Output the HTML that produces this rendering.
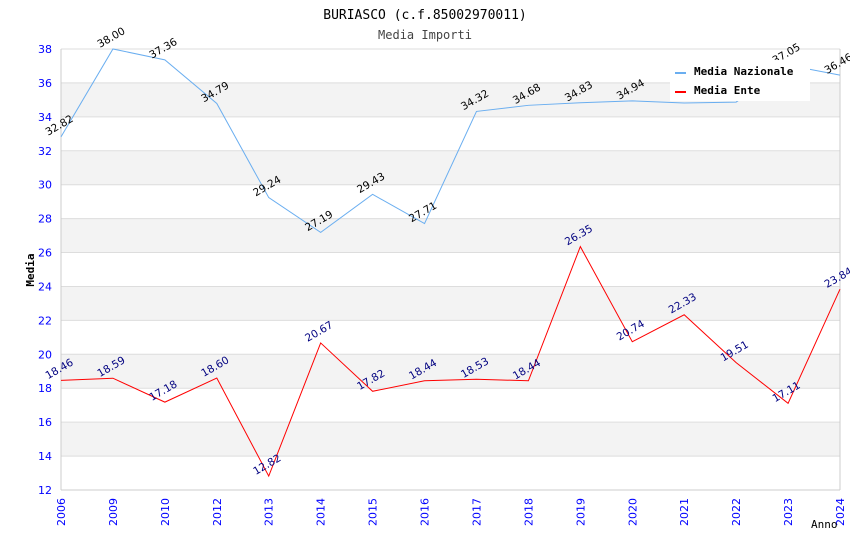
<!DOCTYPE html>
<html><head><meta charset="utf-8"><style>
body{margin:0;background:#fff}
svg text{font-family:"DejaVu Sans","Liberation Sans",sans-serif}
</style></head><body>
<svg id="chart" width="850" height="550" xmlns="http://www.w3.org/2000/svg">
<text x="425" y="19" text-anchor="middle" font-size="13" fill="#000" style="font-family:'DejaVu Sans Mono',monospace">BURIASCO (c.f.85002970011)</text>
<text x="425" y="39" text-anchor="middle" font-size="12" fill="#444" style="font-family:'DejaVu Sans Mono',monospace">Media Importi</text>
<g id="bands"></g><g id="grid"></g><g id="axes"></g><g id="series"></g><g id="labels"></g>
<text x="34" y="270" font-size="11" font-weight="bold" transform="rotate(-90 34 270)" text-anchor="middle" style="font-family:'DejaVu Sans Mono',monospace">Media</text>
<text x="811" y="528" font-size="11" style="font-family:'DejaVu Sans Mono',monospace">Anno</text>
<g>
<rect x="670" y="60" width="140" height="41" fill="#fff"/>
<line x1="675" y1="73" x2="686" y2="73" stroke="#6aaef0" stroke-width="2"/>
<text x="694" y="75" font-size="11" font-weight="bold" style="font-family:'DejaVu Sans Mono',monospace">Media Nazionale</text>
<line x1="675" y1="92" x2="686" y2="92" stroke="#ff0000" stroke-width="2"/>
<text x="694" y="94" font-size="11" font-weight="bold" style="font-family:'DejaVu Sans Mono',monospace">Media Ente</text>
</g>
</svg>
<script>
const categories=["2006","2009","2010","2012","2013","2014","2015","2016","2017","2018","2019","2020","2021","2022","2023","2024"];
const nazionale=[32.82,38.00,37.36,34.79,29.24,27.19,29.43,27.71,34.32,34.68,34.83,34.94,34.82,34.87,37.05,36.46];
const ente=[18.46,18.59,17.18,18.60,12.82,20.67,17.82,18.44,18.53,18.44,26.35,20.74,22.33,19.51,17.11,23.84];
const showLabelNaz=[1,1,1,1,1,1,1,1,1,1,1,1,0,0,1,1];
const yTicks=[12,14,16,18,20,22,24,26,28,30,32,34,36,38];
const X0=61,X1=840,Y0=490,Y1=49,YMIN=12,YMAX=38;
const NS="http://www.w3.org/2000/svg";
const xs=i=>X0+(X1-X0)*i/(categories.length-1);
const ys=v=>Y0-(v-YMIN)/(YMAX-YMIN)*(Y0-Y1);
function mk(tag,attrs,parent,txt){const e=document.createElementNS(NS,tag);for(const k in attrs)e.setAttribute(k,attrs[k]);if(txt!=null)e.textContent=txt;document.getElementById(parent).appendChild(e);return e;}
for(let k=0;k<yTicks.length-1;k++){
  if(yTicks[k]%4===2){const b=mk('rect',{x:X0,y:ys(yTicks[k+1]),width:X1-X0,height:ys(yTicks[k])-ys(yTicks[k+1]),fill:'#f3f3f3'},'bands');
  
  }
}
yTicks.forEach(t=>{
  const l=mk('line',{x1:X0,x2:X1,y1:ys(t),y2:ys(t),stroke:'#dddddd'},'grid');
  
  
  const tx=mk('text',{x:52,y:ys(t)+4,'text-anchor':'end','font-size':11,fill:'#0000ff'},'axes',t);
  
  
});
mk('line',{x1:X0,x2:X0,y1:Y1,y2:Y0,stroke:'#ccc'},'axes');
mk('line',{x1:X1,x2:X1,y1:Y1,y2:Y0,stroke:'#ccc'},'axes');
mk('line',{x1:X0,x2:X1,y1:Y0,y2:Y0,stroke:'#ccc'},'axes');
categories.forEach((c,i)=>{
  const x=xs(i);
  const t=mk('text',{x:x+4,y:Y0+8,'text-anchor':'end','font-size':11,fill:'#0000ff',transform:`rotate(-90 ${x+4} ${Y0+8})`},'axes',c);
  
  
});
function series(vals,color,labColor,name,show){
  const p=mk('polyline',{points:vals.map((v,i)=>xs(i)+','+ys(v)).join(' '),fill:'none',stroke:color,'stroke-width':1},'series');
  
  
  vals.forEach((v,i)=>{
    if(show&&!show[i])return;
    const x=xs(i)-13,y=ys(v)-1;
    const t=mk('text',{x:x,y:y,'font-size':10.5,fill:labColor,transform:`rotate(-30 ${x} ${y})`},'labels',v.toFixed(2));
    
    
  });
}
series(nazionale,'#6aaef0','#000','line-media-nazionale',showLabelNaz);
series(ente,'#ff0000','#000080','line-media-ente',null);
</script>
</body></html>
